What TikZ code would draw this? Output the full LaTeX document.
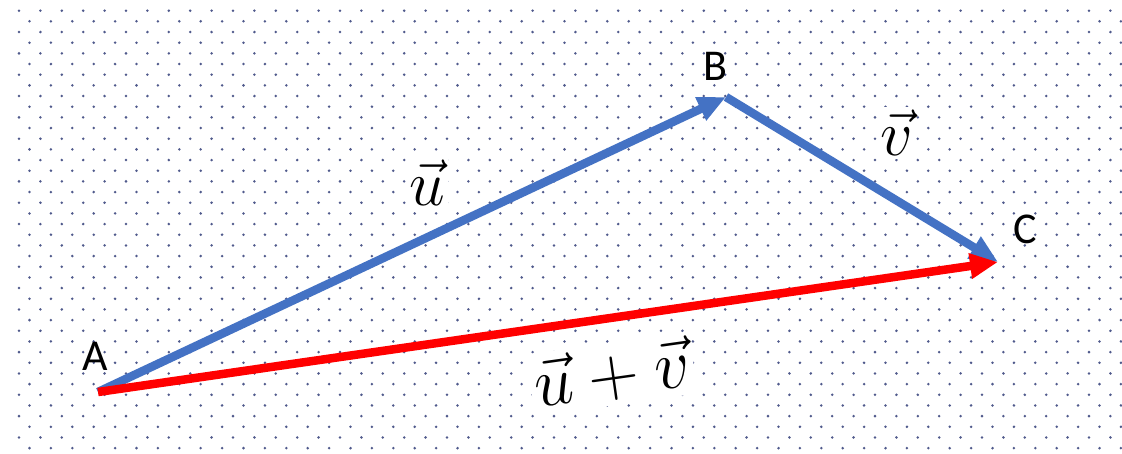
\RequirePackage{fix-cm}
\documentclass[tikz,border=0pt]{standalone}
\usepackage{fontspec}
\newfontfamily\calib{Carlito}
\usetikzlibrary{arrows.meta}
\definecolor{vblue}{RGB}{68,114,196}
\definecolor{vred}{RGB}{255,0,0}
\definecolor{dotc}{RGB}{80,90,140}
\begin{document}
\begin{tikzpicture}[x=1pt,y=-1pt,
  vec/.style={line width=8.5pt,-{Triangle[length=28pt,width=24pt]}},
  ptlabel/.style={font=\calib\fontsize{44}{50}\selectfont,inner sep=0pt},
  veclabel/.style={fill=white,inner sep=3pt,font=\fontsize{64}{70}\selectfont},
  sumlabel/.style={fill=white,inner sep=4pt,font=\fontsize{70}{76}\selectfont,rotate=8}]
\useasboundingbox (0,0) rectangle (1122,453);
\fill[white] (0,0) rectangle (1122,453);
\foreach \j in {0,...,41}{
  \pgfmathsetmacro\yy{10.67+10.67*\j}
  \pgfmathsetmacro\xo{mod(\j,2)*10.5}
  \foreach \i in {0,...,51}{
    \fill[dotc] (19+\xo+21.4*\i,\yy) circle (1.4pt);
  }
}
\coordinate (A) at (98,392);
\coordinate (B) at (726,97);
\coordinate (C) at (998,262);
\draw[vec,vblue] (A) -- (B);
\draw[vec,vblue] (B) -- (C);
\draw[vec,vred] (A) -- (C);
\node[ptlabel] (lA) at (95,356) {A};
\node[ptlabel] (lB) at (715,66) {B};
\node[ptlabel] (lC) at (1025,229) {C};
\node[veclabel] (lu) at (427,183) {$\vec{u}$};
\node[veclabel] (lv) at (897,133) {$\vec{v}$};
\node[sumlabel] (luv) at (612,374) {$\vec{u}+\vec{v}$};
\end{tikzpicture}
\end{document}
